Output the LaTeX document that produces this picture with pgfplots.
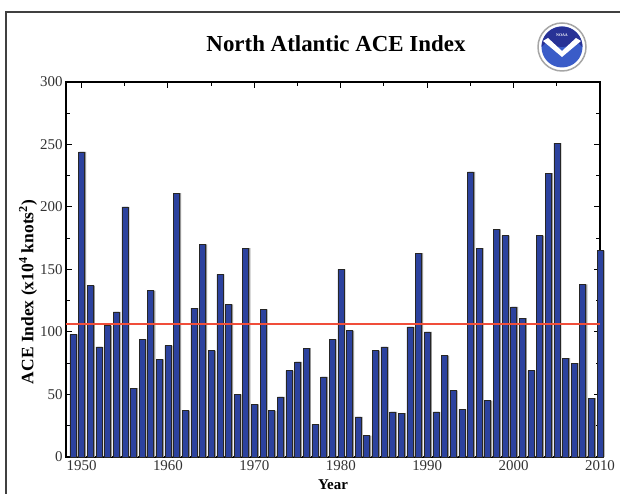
\documentclass[border=0pt]{standalone}
\usepackage{pgfplots}
\pgfplotsset{compat=1.18}
\usepackage{pgfplotstable}
\usepackage{fontspec}
\setmainfont{Liberation Serif}
\definecolor{barblue}{RGB}{44,66,158}
\definecolor{barshadow}{RGB}{150,150,150}
\definecolor{avgred}{RGB}{240,78,58}
\definecolor{noaablue}{RGB}{58,92,200}
\definecolor{noaadark}{RGB}{40,50,150}
\pgfplotstableread{
year ace
1949 98
1950 244
1951 137
1952 88
1953 105
1954 116
1955 200
1956 55
1957 94
1958 133
1959 78
1960 89
1961 211
1962 37
1963 119
1964 170
1965 85
1966 146
1967 122
1968 50
1969 167
1970 42
1971 118
1972 37
1973 48
1974 69
1975 76
1976 87
1977 26
1978 64
1979 94
1980 150
1981 101
1982 32
1983 17
1984 85
1985 88
1986 36
1987 35
1988 104
1989 163
1990 100
1991 36
1992 81
1993 53
1994 38
1995 228
1996 167
1997 45
1998 182
1999 177
2000 120
2001 111
2002 69
2003 177
2004 227
2005 251
2006 79
2007 75
2008 138
2009 47
2010 165
}\acedata
\begin{document}
\begin{tikzpicture}[x=1bp,y=1bp]
\useasboundingbox (0,0) rectangle (620,494);
\fill[white] (0,0) rectangle (620,494);
\draw[black!75, line width=1.3bp] (6,0) -- (6,482) -- (620,482);
\node[font=\bfseries\fontsize{23}{26}\selectfont] at (336,450) {North Atlantic ACE Index};
% NOAA logo
\begin{scope}[shift={(562,447)}]
\fill[white] (0,0) circle (25);
\draw[gray!70, line width=1.5bp] (0,0) circle (24);
\fill[noaablue] (0,0) circle (20.5);
\fill[noaadark] (-20.5,0) arc (180:0:20.5) -- (14,6) .. controls (6,-2) and (-6,-2) .. (-14,6) -- cycle;
\fill[white] (-19,6) -- (-14,9) -- (0,-4) -- (14,9) -- (19,6) -- (0,-10) -- cycle;
\node[white, font=\bfseries\fontsize{4}{4}\selectfont] at (0,12) {NOAA};
\end{scope}
\begin{axis}[
  at={(66bp,37bp)}, anchor=south west,
  scale only axis, width=534bp, height=375bp,
  xmin=1948.2, xmax=2010, ymin=0, ymax=300,
  clip=false,
  xtick={1950,1960,...,2010},
  minor xtick={1955,1965,...,2005},
  ytick={0,50,...,300},
  minor ytick={25,75,...,275},
  tick align=inside,
  major tick length=6bp, minor tick length=4bp,
  tick style={black, line width=1bp},
  axis line style={black, line width=1.6bp},
  /pgf/number format/assume math mode=true,
  /pgf/number format/1000 sep={},
  tick label style={font=\fontsize{15}{15}\selectfont, text=black!80},
  xlabel={\textbf{Year}},
  ylabel={\textbf{ACE Index (x10\textsuperscript{4} knots\textsuperscript{2})}},
  xlabel style={at={(axis description cs:0.5,-0.074)}, anchor=center, font=\fontsize{15}{15}\selectfont},
  ylabel style={at={(axis description cs:-0.071,0.44)}, anchor=center, font=\fontsize{17.5}{19}\selectfont},
]
\addplot[ybar, bar width=6bp, bar shift=1.6bp, fill=barshadow, draw=none] table[x=year, y=ace] {\acedata};
\addplot[ybar, bar width=6bp, bar shift=0bp, fill=barblue, draw=black!85, line width=0.5bp] table[x=year, y=ace] {\acedata};
\addplot[avgred, line width=2bp] coordinates {(1948.2,106) (2010,106)};
\end{axis}
\end{tikzpicture}
\end{document}
